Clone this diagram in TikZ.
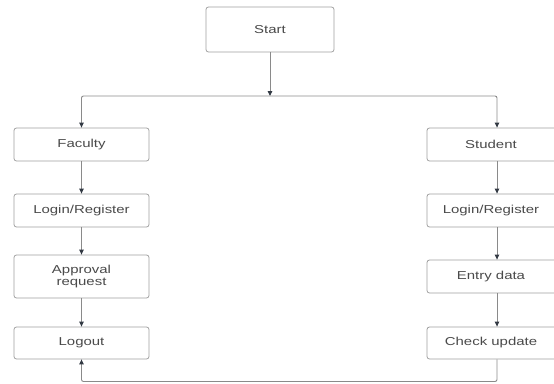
\documentclass[tikz,border=0pt]{standalone}
\usepackage{fontspec}
\newfontfamily\boxfont[FakeStretch=1.3]{Liberation Sans}
\usetikzlibrary{arrows.meta}
\definecolor{boxline}{HTML}{A0A0A0}
\definecolor{conn}{HTML}{8A8A8A}
\definecolor{txt}{HTML}{4A4A4A}
\definecolor{tip}{HTML}{333A44}
\tikzset{
  stepbox/.style={draw=boxline, line width=0.8pt, rounded corners=2.5pt, fill=white,
    text=txt, font=\boxfont\fontsize{11.5}{13}\selectfont, align=center, inner sep=0pt},
  conn/.style={draw=conn, line width=0.9pt, -{Triangle[length=5pt,width=4.5pt,color=tip]}},
  plain/.style={draw=conn, line width=0.9pt}
}
\begin{document}
\begin{tikzpicture}[x=1pt,y=-1pt]
\useasboundingbox (0,0) rectangle (554,383);
\clip (0,0) rectangle (554,383);
% left column
\node[stepbox, minimum width=128pt, minimum height=45pt] (start) at (270,29.5) {Start};
\node[stepbox, minimum width=135pt, minimum height=33pt] (faculty) at (81.5,144.5) {Faculty};
\node[stepbox, minimum width=135pt, minimum height=33pt] (loginf) at (81.5,210.5) {Login/Register};
\node[stepbox, minimum width=135pt, minimum height=43pt] (approval) at (81.5,276.5) {Approval\\[-1pt]request};
\node[stepbox, minimum width=135pt, minimum height=32pt] (logout) at (81.5,343) {Logout};
% right column
\node[stepbox, minimum width=140pt, minimum height=33pt] (student) at (497,144.5) {\hspace*{-12pt}Student};
\node[stepbox, minimum width=140pt, minimum height=33pt] (logins) at (497,210.5) {\hspace*{-12pt}Login/Register};
\node[stepbox, minimum width=140pt, minimum height=33pt] (entry) at (497,276.5) {\hspace*{-12pt}Entry data};
\node[stepbox, minimum width=140pt, minimum height=32pt] (check) at (497,343) {\hspace*{-12pt}Check update};
% connectors
\coordinate (j) at (270,96);
\coordinate (bot) at (270,381.5);
\draw[conn] (start.south) -- (j);
\draw[conn, rounded corners=2pt] (j) -| (faculty.north);
\draw[conn, rounded corners=2pt] (j) -| (student.north);
\draw[conn] (faculty) -- (loginf);
\draw[conn] (loginf) -- (approval);
\draw[conn] (approval) -- (logout);
\draw[conn] (student) -- (logins);
\draw[conn] (logins) -- (entry);
\draw[conn] (entry) -- (check);
\draw[conn, rounded corners=2pt] (check.south) |- (bot) -| (logout.south);
\end{tikzpicture}
\end{document}
